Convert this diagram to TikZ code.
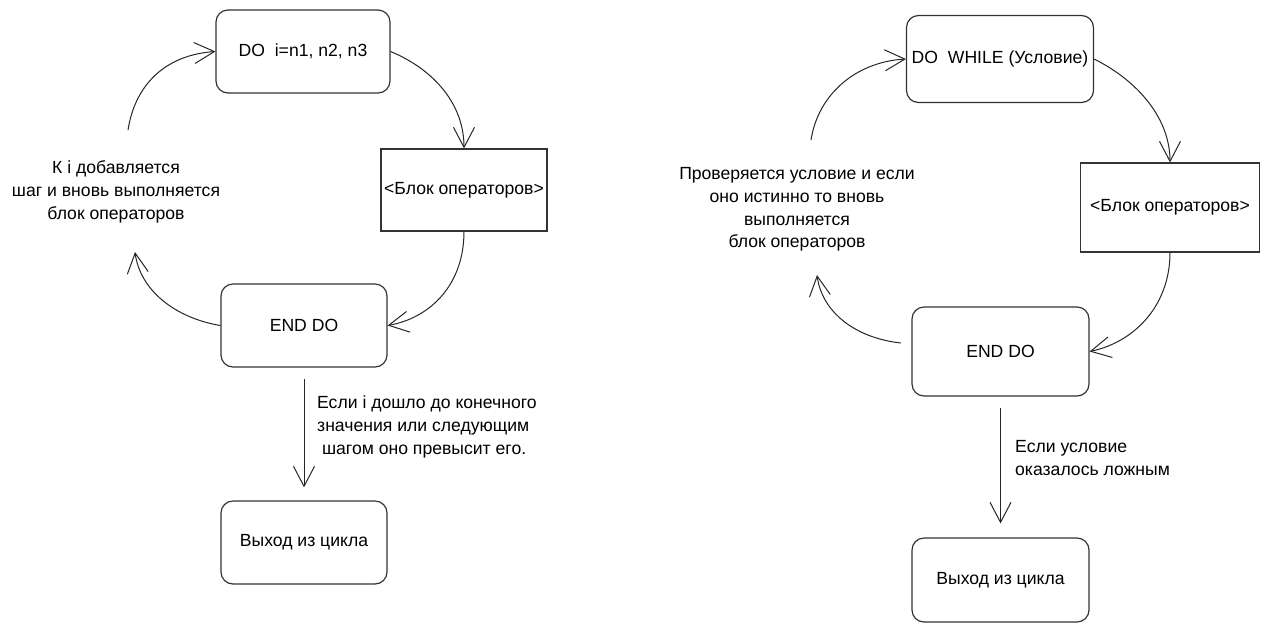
\documentclass[tikz,border=0pt]{standalone}
\usepackage{fontspec}
\setmainfont{Liberation Sans}
\usetikzlibrary{arrows.meta}
\newcommand{\diafont}{\fontsize{17.6}{22.8}\selectfont}
\begin{document}
\begin{tikzpicture}[x=1pt,y=-1pt,
  rbox/.style={draw=black!80,line width=1.2pt,rounded corners=12pt,inner sep=0pt,align=center,font=\diafont},
  sbox/.style={draw=black!80,line width=1.2pt,inner sep=0pt,align=center,font=\diafont},
  lbl/.style={inner sep=0pt,font=\diafont},
  conn/.style={draw=black!85,line width=1pt,-{Straight Barb[length=20pt,width=21pt]}}]
\useasboundingbox (0,0) rectangle (1261,625);
% ---------- left diagram ----------
\node[rbox,minimum width=174pt,minimum height=83pt] (do) at (303,51.5) {DO\ \ i=n1, n2, n3};
\node[sbox,minimum width=166pt,minimum height=82pt] (blk) at (464,190) {<Блок операторов>};
\node[rbox,minimum width=166pt,minimum height=83pt] (end) at (304,325.5) {END DO};
\node[rbox,minimum width=166pt,minimum height=83pt] (ex) at (304,542.5) {Выход из цикла};
\node[lbl,align=center] (lt) at (116,192) {К i добавляется\\шаг и вновь выполняется\\блок операторов};
\node[lbl,align=left,anchor=west] (lb) at (317,427) {Если i дошло до конечного\\значения или следующим\\\ шагом оно превысит его.};
\coordinate (l3) at (135,252);
\coordinate (l4) at (128,130);
\draw[conn] (do.east) .. controls (435,70) and (464,105) .. (blk.north);
\draw[conn] (blk.south) .. controls (464,285) and (430,318) .. (end.east);
\draw[conn] (end.west) .. controls (175,318) and (140,290) .. (l3);
\draw[conn] (l4) .. controls (135,85) and (165,55) .. (do.west);
\draw[conn,shorten <=11pt,shorten >=13pt] (end.south) -- (ex.north);
% ---------- right diagram ----------
\node[rbox,minimum width=187pt,minimum height=87pt] (do2) at (1000,59) {DO\ \ WHILE (Условие)};
\node[sbox,minimum width=179pt,minimum height=89pt] (blk2) at (1170,207.5) {<Блок операторов>};
\node[rbox,minimum width=177pt,minimum height=89pt] (end2) at (1000.5,351.5) {END DO};
\node[rbox,minimum width=177pt,minimum height=84pt] (ex2) at (1000.5,580) {Выход из цикла};
\node[lbl,align=center] (rt) at (797,209.5) {Проверяется условие и если\\оно истинно то вновь\\выполняется\\блок операторов};
\node[lbl,align=left,anchor=west] (rb) at (1015,458) {Если условие\\оказалось ложным};
\coordinate (r3s) at (901,343);
\coordinate (r3) at (817,275);
\coordinate (r4) at (811,140);
\draw[conn] (do2.east) .. controls (1140,82) and (1170,120) .. (blk2.north);
\draw[conn] (blk2.south) .. controls (1170,305) and (1135,342) .. (end2.east);
\draw[conn] (r3s) .. controls (855,338) and (822,312) .. (r3);
\draw[conn] (r4) .. controls (818,95) and (855,62) .. (do2.west);
\draw[conn,shorten <=11pt,shorten >=14pt] (end2.south) -- (ex2.north);
\end{tikzpicture}
\end{document}
